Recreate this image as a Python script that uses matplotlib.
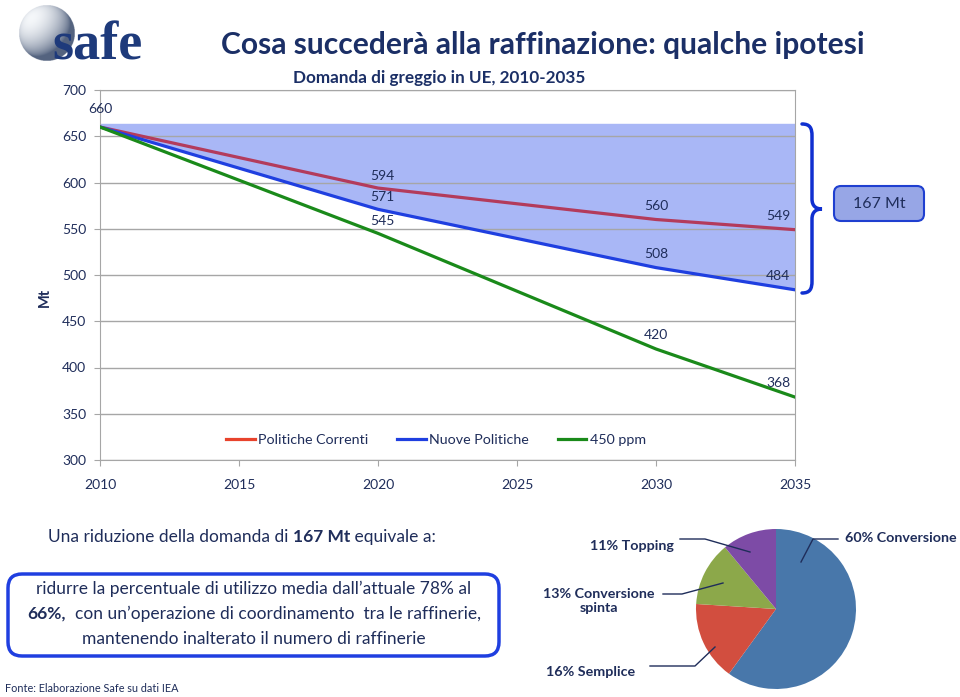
import numpy as np
import matplotlib.pyplot as plt
from matplotlib.lines import Line2D
from matplotlib.patches import FancyBboxPatch, PathPatch
from matplotlib.path import Path

plt.rcParams['font.family'] = ['Lato', 'DejaVu Sans']

NAVY = '#1F2D5A'
GRID = '#A6A6A6'
W, H = 960, 697

# dati (Mt)
years = [2010, 2020, 2030, 2035]
correnti = [660, 594, 560, 549]
nuove = [660, 571, 508, 484]
ppm450 = [660, 545, 420, 368]
series_names = ['Politiche Correnti', 'Nuove Politiche', '450 ppm']
fill_top = 664
reduction = 167

pie_labels = ['60% Conversione', '16% Semplice', '13% Conversione\nspinta', '11% Topping']
pie_shares = [60, 16, 13, 11]
pie_colors = ['#4877AA', '#D24E3F', '#8CA84A', '#7D4BA6']


def fx(px):
    return px / W


def fy(py):
    return 1 - py / H


fig = plt.figure(figsize=(9.6, 6.97), dpi=100)

# --- grafico principale
ax = fig.add_axes([fx(100), fy(460), fx(795) - fx(100), fy(90) - fy(460)])
ax.fill_between(years, nuove, fill_top, color='#A9B7F6', lw=0, zorder=1)
ax.plot(years, correnti, color='#B33B5C', lw=2.3, zorder=3)
ax.plot(years, nuove, color='#1F3FE0', lw=2.3, zorder=3)
ax.plot(years, ppm450, color='#1A8A1A', lw=2.3, zorder=3)

ax.set_xlim(2010, 2035)
ax.set_ylim(300, 700)
ax.set_xticks(range(2010, 2036, 5))
ax.set_yticks(range(300, 701, 50))
ax.grid(axis='y', color=GRID, lw=1, zorder=1.5)
for s in ax.spines.values():
    s.set_color(GRID)
ax.tick_params(axis='both', colors=GRID, labelcolor=NAVY, labelsize=10, length=4)
ax.tick_params(axis='y', pad=6)
ax.tick_params(axis='x', pad=10)

# etichette dei valori
offsets = {2010: (0, 18), 2020: (4, 12), 2030: (0, 14), 2035: (-17, 14)}
for i, yr in enumerate(years):
    vals = [correnti[i]] if yr == 2010 else [correnti[i], nuove[i], ppm450[i]]
    for v in vals:
        ax.annotate(str(v), (yr, v), xytext=offsets[yr], textcoords='offset pixels',
                    ha='center', va='center', fontsize=10, color=NAVY, zorder=4)

handles = [Line2D([], [], color=c, lw=2.3) for c in ['#E8432C', '#1F3FE0', '#1A8A1A']]
ax.legend(handles, series_names, ncol=3, frameon=False, loc='center',
          bbox_to_anchor=(0.4835, 0.054), fontsize=10.3, handlelength=2.0,
          handletextpad=0.25, columnspacing=2.0, labelcolor=NAVY)

fig.text(fx(45), fy(297), 'Mt', rotation=90, ha='center', va='center',
         fontsize=10.5, fontweight='bold', color=NAVY)

# --- logo
ax_g = fig.add_axes([fx(19), fy(61), 56 / W, 56 / H])
n = 200
yy, xx = np.mgrid[-1:1:n * 1j, -1:1:n * 1j]
r2 = xx ** 2 + yy ** 2
zz = np.sqrt(np.clip(1 - r2, 0, 1))
light = np.array([-0.55, -0.55, 0.63])
light = light / np.linalg.norm(light)
shade = np.clip(xx * light[0] + yy * light[1] + zz * light[2], 0, 1) ** 0.8
dark = np.array([0.33, 0.39, 0.50])
bright = np.array([0.96, 0.97, 0.98])
img = dark + (bright - dark) * shade[..., None]
alpha = (r2 <= 1).astype(float)
ax_g.imshow(np.dstack([img, alpha]), extent=(-1, 1, -1, 1))
ax_g.set_axis_off()

fig.text(fx(52), fy(60), 'safe', fontsize=39, family='Liberation Serif', fontweight='bold',
         color='#1E3A7B', ha='left', va='baseline')

fig.text(fx(543), fy(45), 'Cosa succederà alla raffinazione: qualche ipotesi',
         ha='center', va='center', fontsize=21.6, fontweight='bold', color='#1B2F66')
fig.text(fx(439), fy(78), 'Domanda di greggio in UE, 2010-2035',
         ha='center', va='center', fontsize=12.3, fontweight='bold', color='#1B2F66')

# --- overlay in pixel
ax_o = fig.add_axes([0, 0, 1, 1], zorder=10)
ax_o.set_xlim(0, W)
ax_o.set_ylim(H, 0)
ax_o.set_axis_off()

# parentesi graffa
brace = Path([(802, 124), (810, 124), (812, 128), (812, 136),
              (812, 199),
              (812, 206), (816, 209), (822, 209),
              (816, 209), (812, 212), (812, 219),
              (812, 281),
              (812, 289), (810, 293), (802, 293)],
             [Path.MOVETO, Path.CURVE4, Path.CURVE4, Path.CURVE4,
              Path.LINETO,
              Path.CURVE4, Path.CURVE4, Path.CURVE4,
              Path.CURVE4, Path.CURVE4, Path.CURVE4,
              Path.LINETO,
              Path.CURVE4, Path.CURVE4, Path.CURVE4])
ax_o.add_patch(PathPatch(brace, fill=False, edgecolor='#1030D0', lw=2.5, capstyle='round'))

ax_o.add_patch(FancyBboxPatch((838, 190), 82, 27, boxstyle='round,pad=4,rounding_size=7',
                              facecolor='#97A6E6', edgecolor='#1F3FD0', lw=1.5))
ax_o.text(879, 204, f'{reduction} Mt', ha='center', va='center', fontsize=11.5, color=NAVY)

# testo in basso
t1 = ax_o.text(48, 537, 'Una riduzione della domanda di ', ha='left', va='center',
               fontsize=12.5, color=NAVY)
t2 = ax_o.annotate(f'{reduction} Mt', xy=(1, 0), xycoords=t1, ha='left', va='bottom',
                   fontsize=12.5, color=NAVY, fontweight='bold')
ax_o.annotate(' equivale a:', xy=(1, 0), xycoords=t2, ha='left', va='bottom',
              fontsize=12.5, color=NAVY)

box_fs = 12.5
ax_o.add_patch(FancyBboxPatch((13, 579), 481, 72, boxstyle='round,pad=5,rounding_size=14',
                              facecolor='white', edgecolor='#1F3FE0', lw=2.5))
ax_o.text(254, 589, 'ridurre la percentuale di utilizzo media dall’attuale 78% al',
          ha='center', va='center', fontsize=box_fs, color=NAVY)
ta = ax_o.text(0, 614, '66%,', ha='left', va='center', fontsize=box_fs,
               color=NAVY, fontweight='bold')
tb = ax_o.annotate('  con un’operazione di coordinamento  tra le raffinerie,', xy=(1, 0),
                   xycoords=ta, ha='left', va='bottom', fontsize=box_fs, color=NAVY)
ax_o.text(254, 639, 'mantenendo inalterato il numero di raffinerie',
          ha='center', va='center', fontsize=box_fs, color=NAVY)

ax_o.text(5, 689, 'Fonte: Elaborazione Safe su dati IEA', ha='left', va='center',
          fontsize=7.8, color=NAVY)

# --- torta
ax_p = fig.add_axes([fx(696), fy(689), 160 / W, 160 / H])
ax_p.pie(pie_shares, colors=pie_colors, startangle=90, counterclock=False,
         wedgeprops=dict(linewidth=0))
ax_p.set_xlim(-1, 1)
ax_p.set_ylim(-1, 1)

label_pos = [(845, 538, 'left'), (591, 672, 'center'), (599, 601, 'center'), (632, 546, 'center')]
for lab, (x, y, ha) in zip(pie_labels, label_pos):
    ax_o.text(x, y, lab, ha=ha, va='center', fontsize=10.3, fontweight='bold',
              color=NAVY, linespacing=1.2)

leaders = [[(838, 539), (813, 539), (801, 562)],
           [(650, 666), (695, 666), (715, 647)],
           [(663, 594), (682, 594), (723, 583)],
           [(680, 539), (705, 539), (750, 552)]]
for pts in leaders:
    xs, ys = zip(*pts)
    ax_o.plot(xs, ys, color=NAVY, lw=1)

# centra la seconda riga del riquadro
fig.canvas.draw()
r = fig.canvas.get_renderer()
total = ta.get_window_extent(r).width + tb.get_window_extent(r).width
ta.set_x(254 - total / 2)

fig.savefig('out.png', dpi=100)
